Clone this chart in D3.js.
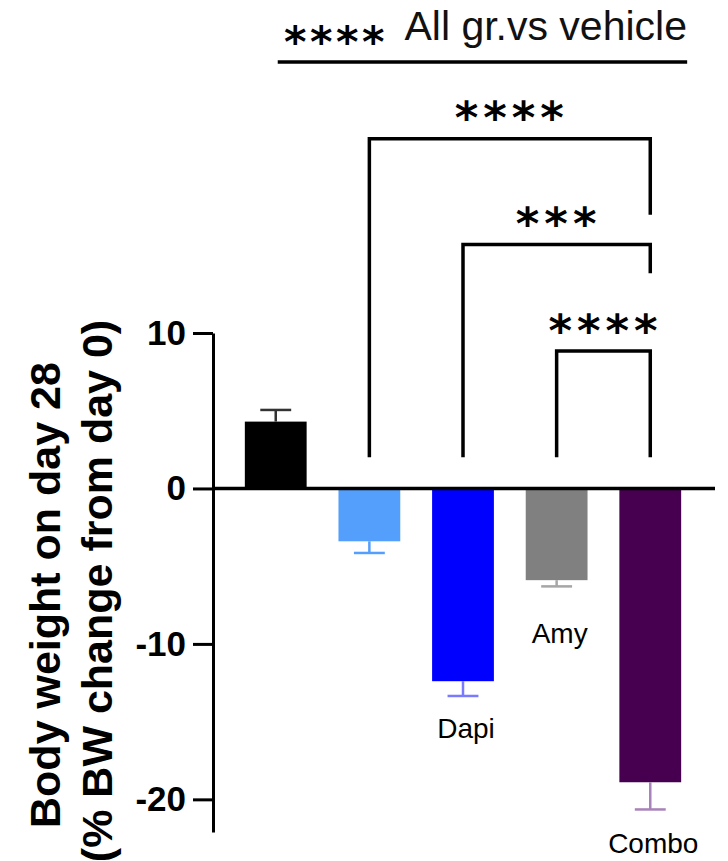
<!DOCTYPE html>
<html>
<head>
<meta charset="utf-8">
<script src="https://cdn.jsdelivr.net/npm/d3@7"></script>
<style>
  body { margin: 0; background: #fff; }
  svg { display: block; font-family: "Liberation Sans", Arial, sans-serif; }
</style>
</head>
<body>
<svg width="728" height="861"></svg>
<script>
// data
var groups = ["Vehicle", "Group 2", "Dapi", "Amy", "Combo"];
var groupLabels = ["", "", "Dapi", "Amy", "Combo"];
var means = [4.3, -3.4, -12.4, -5.9, -18.9];
var sems = [0.75, 0.75, 0.95, 0.4, 1.75];
var barColors = ["#000000", "#559ffc", "#0000ff", "#808080", "#46004f"];
var errColors = ["#333333", "#559ffc", "#7a7aff", "#a6a6a6", "#a882b8"];
var yTicks = [10, 0, -10, -20];

// significance brackets: [left group, right group, top, right leg end, stars]
var brackets = [
    [1, 4, 22.5, 17.6, "****"],
    [2, 4, 15.7, 13.85, "***"],
    [3, 4, 8.85, 2, "****"]
];
var bracketFoot = 2;

var svg = d3.select("svg"),
    axisX = 213;

var y = d3.scaleLinear()
    .domain([-22.1, 10])
    .range([832, 333]);

var x = d3.scaleBand()
    .domain(groups)
    .range([axisX, 713])
    .paddingInner(0.34)
    .paddingOuter(0.34);

var bw = x.bandwidth();
var cx = function(i) { return x(groups[i]) + bw / 2; };

// header
svg.append("line")
    .attr("x1", cx(0) + 2).attr("x2", x(groups[4]) + bw + 6)
    .attr("y1", 62).attr("y2", 62)
    .attr("stroke", "#000").attr("stroke-width", 3.5);

svg.append("text")
    .attr("x", 687).attr("y", 40)
    .attr("text-anchor", "end")
    .attr("font-size", 41)
    .attr("fill", "#111")
    .text("All gr.vs vehicle");

svg.append("text")
    .attr("x", 336).attr("y", 33 + 0.55 * 43)
    .attr("text-anchor", "middle")
    .attr("font-family", "DejaVu Sans")
    .attr("font-weight", "bold")
    .attr("font-size", 43)
    .attr("letter-spacing", 3.5)
    .text("****");

// y axis
var axis = svg.append("g")
    .attr("transform", "translate(" + axisX + ",0)")
    .call(d3.axisLeft(y)
        .tickValues(yTicks)
        .tickFormat(function(d) { return String(d); })
        .tickSize(20).tickSizeOuter(0).tickPadding(7));

axis.select(".domain").attr("stroke", "#000").attr("stroke-width", 3);
axis.selectAll(".tick line").attr("stroke", "#000").attr("stroke-width", 3);
axis.selectAll(".tick text")
    .attr("fill", "#000")
    .attr("font-family", "Liberation Sans, Arial, sans-serif")
    .attr("font-weight", "bold")
    .attr("font-size", 35);

// axis title
var title = svg.append("text")
    .attr("transform", "rotate(-90)")
    .attr("text-anchor", "middle")
    .attr("font-weight", "bold")
    .attr("font-size", 43)
    .attr("fill", "#000");
title.append("tspan").attr("x", -595).attr("y", 60).text("Body weight on day 28");
title.append("tspan").attr("x", -591).attr("y", 112).text("(% BW change from day 0)");

// bars
svg.selectAll(".bar")
    .data(means)
    .enter().append("rect")
    .attr("class", "bar")
    .attr("x", function(d, i) { return x(groups[i]); })
    .attr("width", bw)
    .attr("y", function(d) { return y(Math.max(d, 0)); })
    .attr("height", function(d) { return Math.abs(y(d) - y(0)); })
    .attr("fill", function(d, i) { return barColors[i]; });

// error bars
var err = svg.selectAll(".err")
    .data(means)
    .enter().append("g")
    .attr("class", "err")
    .attr("stroke", function(d, i) { return errColors[i]; })
    .attr("stroke-width", 2.5);

err.append("line")
    .attr("x1", function(d, i) { return cx(i); })
    .attr("x2", function(d, i) { return cx(i); })
    .attr("y1", function(d) { return y(d); })
    .attr("y2", function(d, i) { return y(d + Math.sign(d) * sems[i]); });

err.append("line")
    .attr("x1", function(d, i) { return cx(i) - bw / 4; })
    .attr("x2", function(d, i) { return cx(i) + bw / 4; })
    .attr("y1", function(d, i) { return y(d + Math.sign(d) * sems[i]); })
    .attr("y2", function(d, i) { return y(d + Math.sign(d) * sems[i]); });

// zero line
svg.append("line")
    .attr("x1", axisX).attr("x2", 715)
    .attr("y1", y(0)).attr("y2", y(0))
    .attr("stroke", "#000").attr("stroke-width", 3.5);

// group labels under the bars
var labelDy = [0, 0, 42, 57, 44];
svg.selectAll(".glabel")
    .data(groupLabels)
    .enter().append("text")
    .attr("class", "glabel")
    .attr("x", function(d, i) { return cx(i) + 3; })
    .attr("y", function(d, i) { return y(means[i] - sems[i]) + labelDy[i]; })
    .attr("text-anchor", "middle")
    .attr("font-size", 28)
    .attr("fill", "#000")
    .text(function(d) { return d; });

// brackets
brackets.forEach(function(b) {
    var x1 = cx(b[0]), x2 = cx(b[1]);
    svg.append("path")
        .attr("d", "M" + x1 + "," + y(bracketFoot) + "V" + y(b[2]) + "H" + x2 + "V" + y(b[3]))
        .attr("fill", "none")
        .attr("stroke", "#000")
        .attr("stroke-width", 3.5);
    svg.append("text")
        .attr("x", (x1 + x2) / 2 + 2)
        .attr("y", y(b[2]) - 30 + 0.55 * 45)
        .attr("text-anchor", "middle")
        .attr("font-family", "DejaVu Sans")
        .attr("font-weight", "bold")
        .attr("font-size", 45)
        .attr("letter-spacing", 5)
        .text(b[4]);
});
</script>
</body>
</html>
